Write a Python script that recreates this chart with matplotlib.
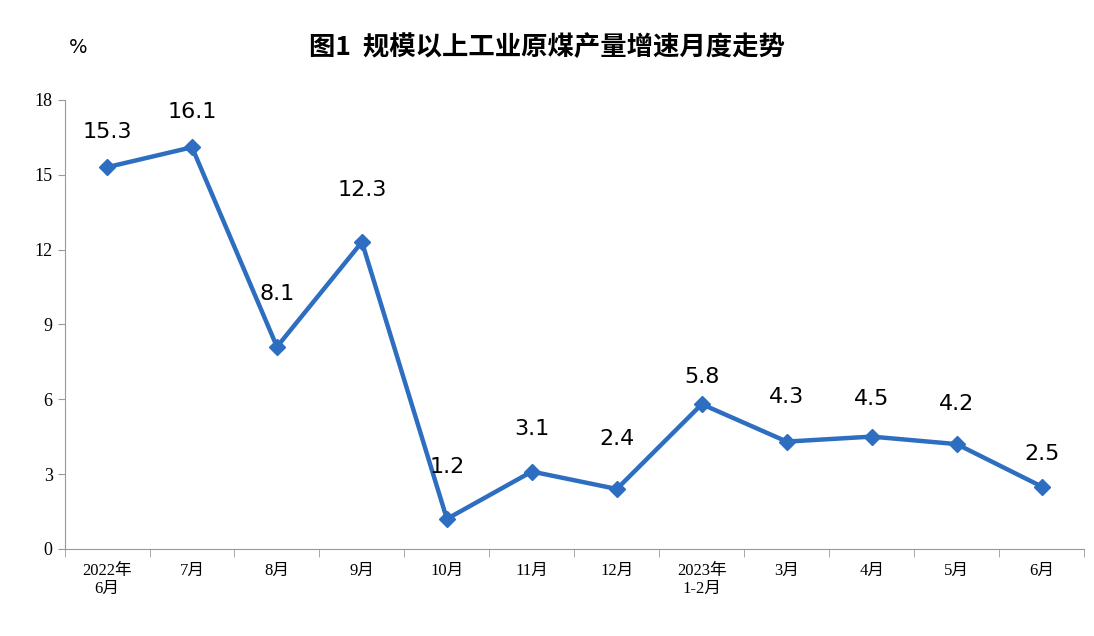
import numpy as np
import matplotlib.pyplot as plt

plt.rcParams['font.family'] = ['Liberation Serif', 'Noto Sans CJK SC']

months = ['2022年\n6月', '7月', '8月', '9月', '10月', '11月', '12月',
          '2023年\n1-2月', '3月', '4月', '5月', '6月']
growth = [15.3, 16.1, 8.1, 12.3, 1.2, 3.1, 2.4, 5.8, 4.3, 4.5, 4.2, 2.5]
yticks = [0, 3, 6, 9, 12, 15, 18]
# label offset above each point, in data units
label_gap = [1.0, 1.0, 1.7, 1.7, 1.7, 1.3, 1.6, 0.7, 1.4, 1.1, 1.2, 0.9]

fig = plt.figure(figsize=(10.94, 6.36), dpi=100)
ax = fig.add_axes([0.059, 0.137, 0.932, 0.706])

x = np.arange(len(months))
ax.plot(x, growth, color='#2E6EC0', lw=3.2, marker='D', ms=8)
for xi, v, g in zip(x, growth, label_gap):
    ax.text(xi, v + g, f'{v}', ha='center', va='bottom', fontsize=16,
            family=['DejaVu Sans'])

ax.set_xlim(-0.5, len(months) - 0.5)
ax.set_ylim(0, 18)
ax.set_yticks(yticks)
ax.set_yticklabels([str(t) for t in yticks], fontsize=13)
ax.set_xticks(x)
ax.set_xticklabels(months, fontsize=12)
ax.tick_params(axis='x', length=0, pad=10)
ax.set_xticks(np.arange(-0.5, len(months)), minor=True)
ax.tick_params(axis='x', which='minor', length=6, color='#999999')
ax.tick_params(axis='y', length=5, color='#999999')
for s in ['top', 'right']:
    ax.spines[s].set_visible(False)
for s in ['left', 'bottom']:
    ax.spines[s].set_color('#999999')

fig.text(0.063, 0.925, '%', fontsize=14, ha='left', va='center', family=['DejaVu Sans'])
fig.text(0.5, 0.925, '图1  规模以上工业原煤产量增速月度走势', fontsize=19, ha='center',
         va='center', family=['Noto Sans CJK SC'], fontweight='bold')

fig.savefig('out.png', dpi=100)
